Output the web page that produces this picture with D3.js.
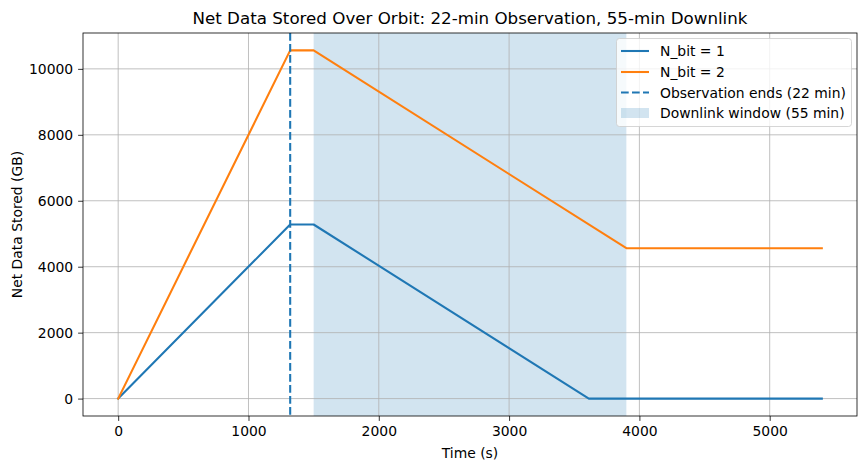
<!DOCTYPE html>
<html><head><meta charset="utf-8">
<script src="https://cdn.jsdelivr.net/npm/d3@7/dist/d3.min.js"></script>
<style>body{margin:0;background:#fff}svg{display:block;font-family:"DejaVu Sans",sans-serif}</style>
</head><body><svg id="c" width="868" height="470"></svg>
<script>
const title = "Net Data Stored Over Orbit: 22-min Observation, 55-min Downlink";
const xLabel = "Time (s)";
const yLabel = "Net Data Stored (GB)";
const times1 = [0, 1320, 1500, 3612, 5400];
const nbit1 = [0, 5280, 5280, 0, 0];
const times2 = [0, 1320, 1500, 3900, 5400];
const nbit2 = [0, 10560, 10560, 4560, 4560];
const obsEnd = 1320;
const downlink = [1500, 3900];
const xTicks = [0, 1000, 2000, 3000, 4000, 5000];
const yTicks = [0, 2000, 4000, 6000, 8000, 10000];
const legendLabels = ["N_bit = 1", "N_bit = 2", "Observation ends (22 min)", "Downlink window (55 min)"];

const svg = d3.select("#c");
const L = 83, R = 857, T = 33, B = 416;
const x = d3.scaleLinear().domain([-270, 5670]).range([L, R]);
const y = d3.scaleLinear().domain([-528, 11088]).range([B, T]);
const blue = "#1f77b4", orange = "#ff7f0e";

// shaded downlink
svg.append("rect").attr("x", x(downlink[0])).attr("y", T).attr("width", x(downlink[1]) - x(downlink[0])).attr("height", B - T)
  .attr("fill", blue).attr("fill-opacity", 0.2);

// grid
const g = svg.append("g");
xTicks.forEach(t => g.append("line").attr("x1", x(t)).attr("x2", x(t)).attr("y1", T).attr("y2", B).attr("stroke", "#b0b0b0").attr("stroke-width", 0.8));
yTicks.forEach(t => g.append("line").attr("x1", L).attr("x2", R).attr("y1", y(t)).attr("y2", y(t)).attr("stroke", "#b0b0b0").attr("stroke-width", 0.8));

const line = d3.line().x(d => x(d[0])).y(d => y(d[1]));
svg.append("path").datum(times1.map((t, i) => [t, nbit1[i]])).attr("d", line).attr("fill", "none").attr("stroke", blue).attr("stroke-width", 2.08).attr("stroke-linejoin", "round").attr("stroke-linecap", "square");
svg.append("path").datum(times2.map((t, i) => [t, nbit2[i]])).attr("d", line).attr("fill", "none").attr("stroke", orange).attr("stroke-width", 2.08).attr("stroke-linejoin", "round").attr("stroke-linecap", "square");

svg.append("line").attr("x1", x(obsEnd)).attr("x2", x(obsEnd)).attr("y1", T).attr("y2", B).attr("stroke", blue).attr("stroke-width", 2.08).attr("stroke-dasharray", "7.7,3.3");

// axes
const xAxis = d3.axisBottom(x).tickValues(xTicks).tickSize(4.9).tickPadding(4.9).tickFormat(d3.format("d"));
const yAxis = d3.axisLeft(y).tickValues(yTicks).tickSize(4.9).tickPadding(4.9).tickFormat(d3.format("d"));
const ax = svg.append("g").attr("transform", `translate(0,${B})`).call(xAxis);
const ay = svg.append("g").attr("transform", `translate(${L},0)`).call(yAxis);
[ax, ay].forEach(a => {
  a.select(".domain").remove();
  a.selectAll("text").attr("font-size", 13.9).attr("fill", "#000").attr("font-family", "DejaVu Sans");
  a.selectAll("line").attr("stroke", "#000").attr("stroke-width", 0.8);
});
svg.append("rect").attr("x", L).attr("y", T).attr("width", R - L).attr("height", B - T).attr("fill", "none").attr("stroke", "#000").attr("stroke-width", 0.8);

svg.append("text").attr("x", (L + R) / 2).attr("y", 24).attr("text-anchor", "middle").attr("font-size", 16.7).text(title);
svg.append("text").attr("x", (L + R) / 2).attr("y", 458).attr("text-anchor", "middle").attr("font-size", 13.9).text(xLabel);
svg.append("text").attr("transform", `translate(22,${(T + B) / 2}) rotate(-90)`).attr("text-anchor", "middle").attr("font-size", 13.9).text(yLabel);

// legend
const lg = svg.append("g");
lg.append("rect").attr("x", 616.5).attr("y", 38.5).attr("width", 235).attr("height", 88).attr("rx", 3).attr("fill", "#fff").attr("fill-opacity", 0.8).attr("stroke", "#cccccc").attr("stroke-width", 0.8);
const ly = [51, 72, 92.5, 113];
legendLabels.forEach((lab, i) => {
  if (i < 3) {
    lg.append("line").attr("x1", 621).attr("x2", 649).attr("y1", ly[i]).attr("y2", ly[i])
      .attr("stroke", i === 1 ? orange : blue).attr("stroke-width", 2.08).attr("stroke-dasharray", i === 2 ? "7.7,3.3" : null);
  } else {
    lg.append("rect").attr("x", 621).attr("y", ly[i] - 5).attr("width", 28).attr("height", 10).attr("fill", blue).attr("fill-opacity", 0.2);
  }
  lg.append("text").attr("x", 660).attr("y", ly[i]).attr("dy", "0.36em").attr("font-size", 13.9).text(lab);
});
</script></body></html>
